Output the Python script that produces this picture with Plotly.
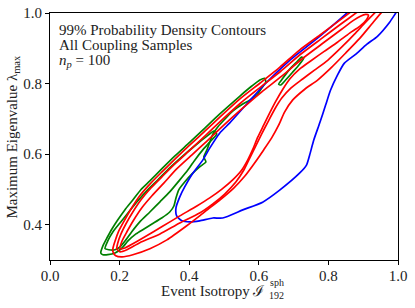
import plotly.graph_objects as go

# ---- data ----
blue_x = [0.875,0.852,0.775,0.689,0.617,0.568,0.516,0.488,0.459,0.439,0.407,0.387,0.373,0.362,0.364,0.379,0.402,0.430,0.468,0.496,0.554,0.611,0.660,0.717,0.737,0.746,0.758,0.775,0.792,0.806,0.826,0.846,0.878,0.910,0.941,0.976,0.993,1.007]
blue_y = [1.022,0.999,0.934,0.866,0.798,0.745,0.688,0.660,0.617,0.583,0.541,0.507,0.479,0.448,0.425,0.411,0.408,0.411,0.419,0.419,0.442,0.464,0.498,0.546,0.569,0.597,0.640,0.688,0.739,0.781,0.824,0.858,0.883,0.911,0.934,0.974,0.999,1.019]

green_outer_x = [0.146,0.152,0.164,0.178,0.195,0.215,0.238,0.261,0.287,0.321,0.359,0.402,0.445,0.488,0.545,0.580,0.603,0.617,0.620,0.608,0.594,0.574,0.554,0.525,0.502,0.482,0.468,0.459,0.451,0.442,0.448,0.430,0.408,0.387,0.370,0.362,0.356,0.344,0.321,0.293,0.270,0.247,0.224,0.207,0.187,0.166,0.152,0.146]
green_outer_y = [0.320,0.340,0.363,0.388,0.414,0.442,0.470,0.499,0.524,0.558,0.595,0.634,0.674,0.714,0.764,0.793,0.810,0.815,0.804,0.787,0.767,0.753,0.742,0.722,0.699,0.677,0.657,0.634,0.612,0.592,0.578,0.564,0.544,0.521,0.499,0.476,0.453,0.436,0.419,0.402,0.388,0.374,0.354,0.334,0.320,0.315,0.315,0.320]

green_inner_x = [0.158,0.166,0.181,0.201,0.224,0.250,0.278,0.310,0.344,0.382,0.419,0.451,0.471,0.479,0.459,0.439,0.416,0.396,0.373,0.344,0.316,0.287,0.258,0.235,0.218,0.201,0.187,0.169,0.158]
green_inner_y = [0.332,0.354,0.380,0.405,0.433,0.465,0.496,0.527,0.561,0.595,0.626,0.651,0.665,0.657,0.634,0.612,0.583,0.555,0.527,0.493,0.465,0.436,0.408,0.380,0.357,0.337,0.329,0.329,0.332]

green_island_x = [0.657,0.669,0.689,0.709,0.723,0.729,0.717,0.697,0.677,0.663,0.657]
green_island_y = [0.798,0.815,0.841,0.861,0.875,0.872,0.855,0.832,0.810,0.796,0.798]

red_outer_x = [0.904,0.875,0.832,0.775,0.717,0.660,0.603,0.545,0.488,0.445,0.402,0.359,0.321,0.287,0.258,0.235,0.215,0.198,0.187,0.181,0.181,0.189,0.207,0.238,0.287,0.336,0.393,0.430,0.459,0.488,0.528,0.560,0.588,0.614,0.637,0.657,0.674,0.697,0.732,0.769,0.809,0.849,0.890,0.924,0.953,0.976]
red_outer_y = [1.030,1.011,0.979,0.937,0.895,0.846,0.801,0.756,0.705,0.665,0.626,0.586,0.549,0.515,0.482,0.448,0.414,0.383,0.354,0.334,0.323,0.312,0.309,0.315,0.332,0.357,0.397,0.425,0.448,0.470,0.504,0.538,0.575,0.612,0.646,0.682,0.719,0.753,0.784,0.810,0.846,0.886,0.928,0.968,1.002,1.025]

red_mid_x = [0.907,0.878,0.835,0.778,0.720,0.663,0.605,0.548,0.491,0.448,0.405,0.362,0.324,0.290,0.261,0.238,0.218,0.204,0.195,0.192,0.201,0.221,0.258,0.316,0.373,0.430,0.468,0.502,0.534,0.557,0.574,0.591,0.608,0.626,0.646,0.666,0.692,0.726,0.760,0.798,0.838,0.875,0.907,0.935,0.956]
red_mid_y = [1.019,0.999,0.968,0.926,0.883,0.835,0.790,0.745,0.694,0.654,0.614,0.575,0.538,0.504,0.470,0.436,0.402,0.374,0.349,0.332,0.323,0.329,0.349,0.374,0.405,0.433,0.459,0.487,0.521,0.555,0.589,0.623,0.657,0.691,0.728,0.759,0.787,0.813,0.838,0.866,0.903,0.940,0.974,1.002,1.022]

red_inner_x = [0.201,0.207,0.221,0.241,0.264,0.293,0.327,0.364,0.408,0.451,0.494,0.551,0.608,0.666,0.723,0.781,0.838,0.872,0.892,0.907,0.915,0.910,0.890,0.861,0.826,0.789,0.752,0.717,0.689,0.669,0.649,0.631,0.614,0.597,0.583,0.568,0.551,0.525,0.494,0.459,0.422,0.373,0.321,0.273,0.238,0.215,0.201]
red_inner_y = [0.332,0.354,0.380,0.414,0.448,0.482,0.518,0.558,0.598,0.637,0.677,0.728,0.776,0.821,0.869,0.912,0.954,0.979,0.991,0.996,0.994,0.982,0.962,0.943,0.917,0.892,0.866,0.841,0.813,0.784,0.750,0.716,0.682,0.648,0.614,0.583,0.555,0.527,0.501,0.476,0.453,0.425,0.394,0.366,0.346,0.334,0.332]

x_ticks = [0.0, 0.2, 0.4, 0.6, 0.8, 1.0]
y_ticks = [0.4, 0.6, 0.8, 1.0]

FONT = "Liberation Serif, DejaVu Serif, serif"
BLUE, GREEN, RED = "#0000ff", "#008000", "#ff0000"
LW = 1.7

fig = go.Figure()
def add(x, y, c):
    fig.add_trace(go.Scatter(x=x, y=y, mode="lines",
                             line=dict(color=c, width=LW, shape="spline", smoothing=0.6),
                             showlegend=False, hoverinfo="skip"))

add(green_outer_x, green_outer_y, GREEN)
add(green_inner_x, green_inner_y, GREEN)
add(green_island_x, green_island_y, GREEN)
add(blue_x, blue_y, BLUE)
add(red_outer_x, red_outer_y, RED)
add(red_mid_x, red_mid_y, RED)
add(red_inner_x, red_inner_y, RED)

axis_common = dict(showgrid=False, zeroline=False, showline=True, linecolor="black",
                   linewidth=1, mirror=True, ticks="outside", ticklen=4, tickwidth=1,
                   tickcolor="black", automargin=False,
                   tickfont=dict(family=FONT, size=15, color="#222"))
fig.update_xaxes(range=[0, 1], tickvals=x_ticks, ticktext=[f"{v:.1f}" for v in x_ticks],
                 ticklabelstandoff=-2, **axis_common)
fig.update_yaxes(range=[0.3, 1.0], tickvals=y_ticks, ticktext=[f"{v:.1f}" for v in y_ticks], **axis_common)

ann = []
def txt(s, x, y, size=15, xa="left", angle=0):
    ann.append(dict(text=s, x=x, y=y, xref="paper", yref="paper", xanchor=xa, yanchor="middle",
                    showarrow=False, textangle=angle, font=dict(family=FONT, size=size, color="#222")))

txt("99% Probability Density Contours", 0.021, 0.932)
txt("All Coupling Samples", 0.021, 0.871)
txt("<i>n</i><sub><i>p</i></sub> = 100", 0.021, 0.806)
txt("Event Isotropy \u2110", 0.623, -0.126, xa="right")
txt("sph", 0.626, -0.092, size=10)
txt("192", 0.623, -0.142, size=10)
txt("Maximum Eigenvalue \u03bb<sub>max</sub>", -0.109, 0.5, xa="center", angle=-90)

fig.update_layout(width=415, height=308, margin=dict(l=50, r=16.5, t=12.7, b=48, autoexpand=False),
                  paper_bgcolor="white", plot_bgcolor="white", annotations=ann)
fig.write_html("out.html", config={"displayModeBar": False},
               post_script="document.body.style.margin='0';")
